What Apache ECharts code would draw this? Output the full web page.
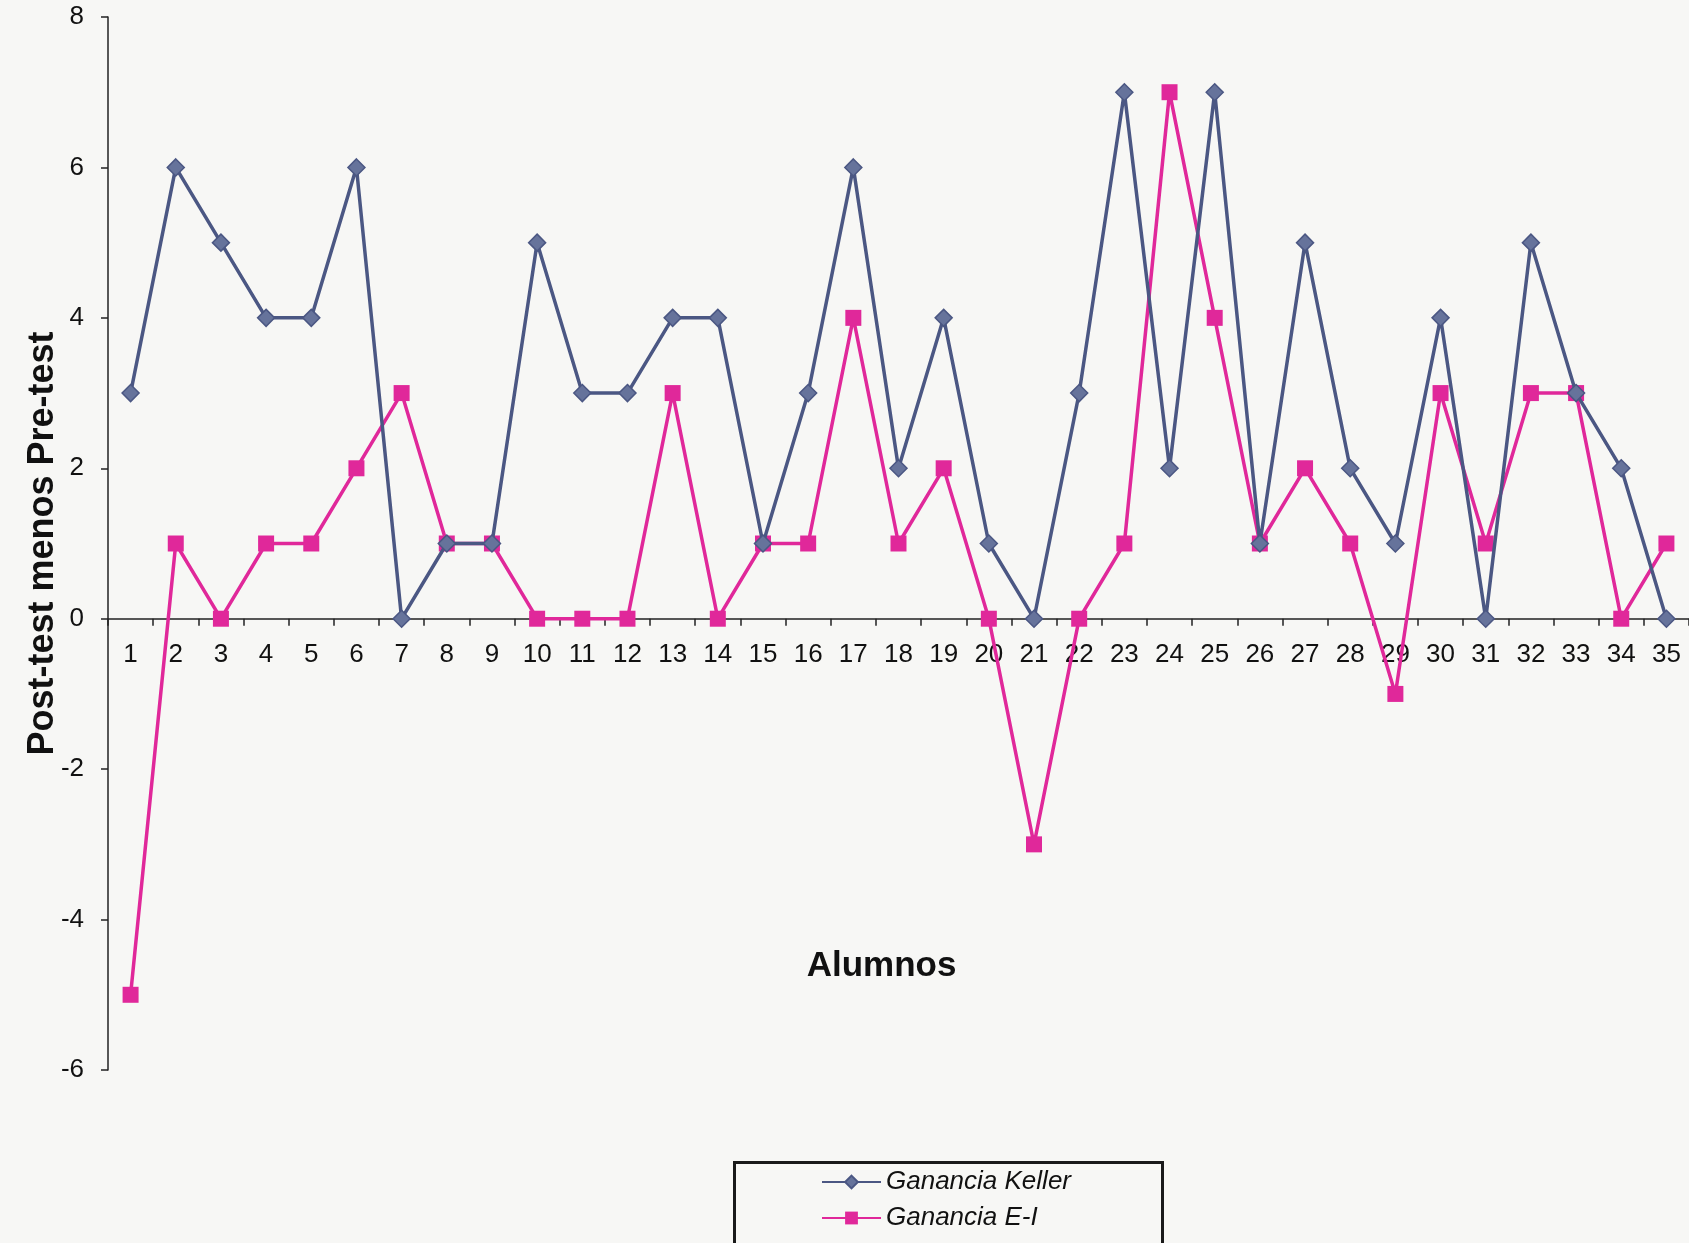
<!DOCTYPE html>
<html>
<head>
<meta charset="utf-8">
<title>Ganancia Keller vs Ganancia E-I</title>
<script src="https://cdn.jsdelivr.net/npm/echarts@6/dist/echarts.min.js"></script>
<style>
  html, body { margin: 0; padding: 0; background: #f7f7f5; }
  #chart { width: 1689px; height: 1243px; }
</style>
</head>
<body>
<div id="chart"></div>
<script>
// Alumnos 1..35
const alumnos = ['1','2','3','4','5','6','7','8','9','10','11','12','13','14','15','16','17','18','19','20',
  '21','22','23','24','25','26','27','28','29','30','31','32','33','34','35'];

// Post-test menos Pre-test, grupo Keller
const gananciaKeller = [3, 6, 5, 4, 4, 6, 0, 1, 1, 5, 3, 3, 4, 4, 1, 3, 6, 2, 4, 1,
  0, 3, 7, 2, 7, 1, 5, 2, 1, 4, 0, 5, 3, 2, 0];

// Post-test menos Pre-test, grupo E-I
const gananciaEI = [-5, 1, 0, 1, 1, 2, 3, 1, 1, 0, 0, 0, 3, 0, 1, 1, 4, 1, 2, 0,
  -3, 0, 1, 7, 4, 1, 2, 1, -1, 3, 1, 3, 3, 0, 1];

// Value axis range
const yMin = -6, yMax = 8, yStep = 2;

const FONT = 'Arial, "Liberation Sans", sans-serif';
const KELLER = '#4b5783';
const EI = '#e0289a';

// Plot area
const GRID = { left: 108, right: 0, top: 17, bottom: 173 };
const plotHeight = 1243 - GRID.top - GRID.bottom;
// The category axis sits on the zero line; shift it up from the bottom of the plot.
const zeroOffset = -plotHeight * (0 - yMin) / (yMax - yMin);

const legendText = { fontFamily: FONT, fontSize: 26, fontStyle: 'italic', color: '#111' };

const chart = echarts.init(document.getElementById('chart'), null, { renderer: 'canvas' });

chart.setOption({
  backgroundColor: '#f7f7f5',
  animation: false,
  grid: Object.assign({ containLabel: false, outerBoundsMode: 'none' }, GRID),
  xAxis: {
    type: 'category',
    data: alumnos,
    boundaryGap: true,
    offset: zeroOffset,
    name: 'Alumnos',
    nameLocation: 'middle',
    nameGap: 330,
    nameMoveOverlap: false,
    nameTextStyle: { fontFamily: FONT, fontSize: 35, fontWeight: 'bold', color: '#111', padding: [0, 34, 0, 0] },
    axisLine: { onZero: false, lineStyle: { color: '#222', width: 1.5 } },
    axisTick: { show: true, length: 7, inside: false, lineStyle: { color: '#222', width: 1.5 } },
    axisLabel: { fontFamily: FONT, fontSize: 26, color: '#111', margin: 23 },
    splitLine: { show: false }
  },
  yAxis: {
    type: 'value',
    min: yMin,
    max: yMax,
    interval: yStep,
    name: 'Post-test menos Pre-test',
    nameLocation: 'middle',
    nameGap: 47,
    nameMoveOverlap: false,
    nameTextStyle: { fontFamily: FONT, fontSize: 36, fontWeight: 'bold', color: '#111' },
    axisLine: { show: true, lineStyle: { color: '#222', width: 1.5 } },
    axisTick: { show: true, length: 7, lineStyle: { color: '#222', width: 1.5 } },
    axisLabel: { fontFamily: FONT, fontSize: 26, color: '#111', margin: 24 },
    splitLine: { show: false }
  },
  // Legend frame
  graphic: [{
    type: 'rect',
    left: 733,
    top: 1161,
    shape: { width: 428, height: 110 },
    style: { fill: 'transparent', stroke: '#1a1a1a', lineWidth: 3 },
    silent: true
  }],
  legend: [
    {
      left: 821, top: 1169,
      itemWidth: 59, itemHeight: 16, padding: 0,
      textStyle: legendText,
      data: ['Ganancia Keller']
    },
    {
      left: 821, top: 1205,
      itemWidth: 59, itemHeight: 16, padding: 0,
      textStyle: legendText,
      data: ['Ganancia E-I']
    }
  ],
  series: [
    {
      name: 'Ganancia Keller',
      type: 'line',
      data: gananciaKeller,
      symbol: 'diamond',
      symbolSize: 17,
      lineStyle: { color: KELLER, width: 3.5 },
      itemStyle: { color: '#66739b', borderColor: KELLER, borderWidth: 1.5 },
      z: 3
    },
    {
      name: 'Ganancia E-I',
      type: 'line',
      data: gananciaEI,
      symbol: 'rect',
      symbolSize: 16,
      lineStyle: { color: EI, width: 3.5 },
      itemStyle: { color: EI, borderColor: EI, borderWidth: 0 },
      z: 2
    }
  ]
});
</script>
</body>
</html>
